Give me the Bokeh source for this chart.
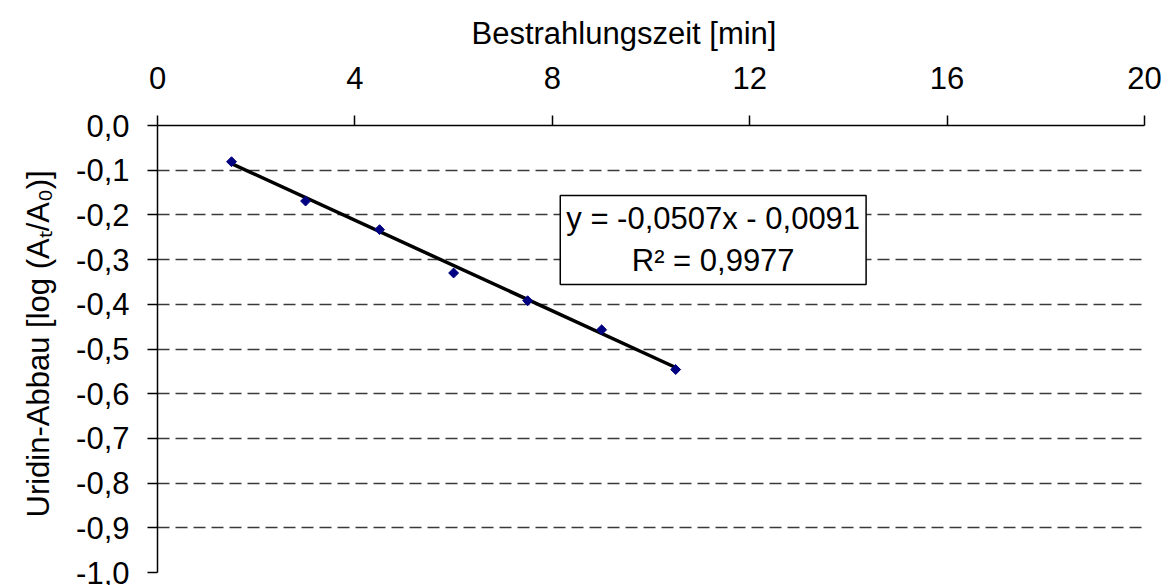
import math
from bokeh.plotting import figure
from bokeh.models import FixedTicker, Label, Range1d, Title
from bokeh.embed import file_html
from bokeh.resources import INLINE

# Irradiation time (min) and uridine degradation log(At/A0)
time_min = [1.5, 3.0, 4.5, 6.0, 7.5, 9.0, 10.5]
log_ratio = [-0.081, -0.169, -0.233, -0.330, -0.392, -0.457, -0.546]

# Linear trend line coefficients as reported
slope = -0.0507
intercept = -0.0091
r_squared = 0.9977

x_ticks = [0, 4, 8, 12, 16, 20]
y_ticks = [0.0, -0.1, -0.2, -0.3, -0.4, -0.5, -0.6, -0.7, -0.8, -0.9, -1.0]
y_tick_labels = ["0,0", "-0,1", "-0,2", "-0,3", "-0,4", "-0,5",
                 "-0,6", "-0,7", "-0,8", "-0,9", "-1,0"]

x_title = "Bestrahlungszeit [min]"
y_title = "Uridin-Abbau [log (A\u209c/A\u2080)]"

FONT = "Liberation Sans"
FS = "31px"

FRAME_L, FRAME_T, FRAME_B = 157, 125, 572
W, H = 1169, 585

p = figure(width=W, height=H, output_backend="svg", toolbar_location=None,
           x_axis_location="above", x_range=Range1d(0, 20), y_range=Range1d(-1.0, 0.0),
           min_border_left=FRAME_L, min_border_right=25, min_border_top=FRAME_T,
           min_border_bottom=H - FRAME_B)
p.outline_line_color = None
p.background_fill_color = "white"
p.border_fill_color = "white"

# axes
xa = p.xaxis[0]
xa.ticker = FixedTicker(ticks=x_ticks)
ya = p.yaxis[0]
ya.ticker = FixedTicker(ticks=y_ticks)
ya.major_label_overrides = {t: s for t, s in zip(y_ticks, y_tick_labels)}

for ax in (xa, ya):
    ax.axis_line_color = "black"
    ax.axis_line_width = 1.5
    ax.major_tick_line_color = "black"
    ax.major_tick_line_width = 1.5
    ax.major_tick_out = 10
    ax.major_tick_in = 0
    ax.minor_tick_line_color = None
    ax.major_label_text_font = FONT
    ax.major_label_text_font_size = FS
    ax.major_label_text_color = "black"

xa.major_label_standoff = 27
ya.major_label_standoff = 18

p.xgrid.grid_line_color = None
p.ygrid.grid_line_color = "#3a3a3a"
p.ygrid.grid_line_width = 1.5
p.ygrid.grid_line_dash = "12 6"

# axis titles as side-panel titles, offset along the axis
p.add_layout(Title(text=x_title, align="left", offset=314, standoff=26,
                   text_font=FONT, text_font_size=FS, text_font_style="normal",
                   text_color="black"), "above")
p.add_layout(Title(text=y_title, align="left", offset=55, standoff=36,
                   text_font=FONT, text_font_size=FS, text_font_style="normal",
                   text_color="black"), "left")

# trend line over the measured range
x_fit = [min(time_min), max(time_min)]
y_fit = [slope * x + intercept for x in x_fit]
p.line(x_fit, y_fit, line_color="black", line_width=3.5)

# measured points (rotated squares)
p.scatter(time_min, log_ratio, marker="square", size=7, angle=math.pi / 4,
          fill_color="#000080", line_color="#000080")

def de(v, digits=4):
    return f"{abs(v):.{digits}f}".replace(".", ",")

eq_text = (f"y = {'-' if slope < 0 else ''}{de(slope)}x "
           f"{'-' if intercept < 0 else '+'} {de(intercept)}\n"
           f"R\u00b2 = {de(r_squared)}")
p.add_layout(Label(x=11.26, y=-0.256, text=eq_text, text_align="center",
                   text_baseline="middle", text_font=FONT, text_font_size=FS,
                   text_color="black", background_fill_color="white",
                   border_line_color="black", border_line_width=1.5,
                   padding=6))

open("out.html", "w").write(file_html(p, INLINE))
